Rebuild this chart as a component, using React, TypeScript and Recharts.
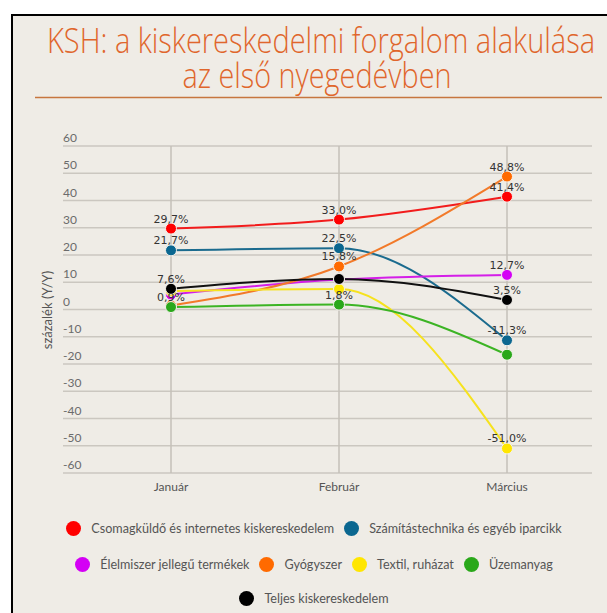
import React from 'react';
import { LineChart, Line, XAxis, YAxis, CartesianGrid, LabelList, ReferenceLine } from 'recharts';

const months = ['Január', 'Február', 'Március'];
const yTicks = [-60, -50, -40, -30, -20, -10, 0, 10, 20, 30, 40, 50, 60];

const csomagkuldo = [29.7, 33.0, 41.4];
const szamitastechnika = [21.7, 22.5, -11.3];
const elelmiszer = [5.5, 11.0, 12.7];
const gyogyszer = [1.5, 15.8, 48.8];
const textil = [6.8, 7.5, -51.0];
const uzemanyag = [0.9, 1.8, -16.6];
const teljes = [7.6, 11.2, 3.5];

// melyik pontnál van felirat
const csomagkuldoLabels = [true, true, true];
const szamitastechnikaLabels = [true, true, true];
const elelmiszerLabels = [false, false, true];
const gyogyszerLabels = [false, true, true];
const textilLabels = [false, false, true];
const uzemanyagLabels = [true, true, false];
const teljesLabels = [true, false, true];

const series = [
  { key: 'csomag', name: 'Csomagküldő és internetes kiskereskedelem', color: '#f21c1c', dot: '#ff0000', values: csomagkuldo, labels: csomagkuldoLabels },
  { key: 'szamitas', name: 'Számítástechnika és egyéb iparcikk', color: '#1b6b8e', dot: '#0b6790', values: szamitastechnika, labels: szamitastechnikaLabels },
  { key: 'elelmiszer', name: 'Élelmiszer jellegű termékek', color: '#d41ee8', dot: '#d400f5', values: elelmiszer, labels: elelmiszerLabels },
  { key: 'gyogyszer', name: 'Gyógyszer', color: '#f27a2a', dot: '#ff6a00', values: gyogyszer, labels: gyogyszerLabels },
  { key: 'textil', name: 'Textil, ruházat', color: '#f6e21e', dot: '#ffe600', values: textil, labels: textilLabels },
  { key: 'uzemanyag', name: 'Üzemanyag', color: '#3cb424', dot: '#2aa81a', values: uzemanyag, labels: uzemanyagLabels },
  { key: 'teljes', name: 'Teljes kiskereskedelem', color: '#111111', dot: '#000000', values: teljes, labels: teljesLabels },
];

const legendRows = [
  ['csomag', 'szamitas'],
  ['elelmiszer', 'gyogyszer', 'textil', 'uzemanyag'],
  ['teljes'],
];

const chartData = months.map((month, i) => {
  const row: Record<string, string | number> = { month };
  series.forEach((s) => {
    row[s.key] = s.values[i];
  });
  return row;
});

const formatPct = (v: number) => v.toFixed(1).replace('.', ',') + '%';

const UI_FONT = 'Lato, "Open Sans", sans-serif';

function YTick(props: any) {
  const { y, payload } = props;
  return (
    <text x={63} y={y - 4} fontSize={12} fill='#6b6b6b' fontFamily={UI_FONT}>
      {payload.value}
    </text>
  );
}

function XTick(props: any) {
  const { x, y, payload } = props;
  return (
    <text x={x} y={y + 10} textAnchor='middle' fontSize={12} fill='#555' fontFamily={UI_FONT}>
      {payload.value}
    </text>
  );
}

export default function App() {
  return (
    <div style={{ position: 'fixed', left: 0, top: 0, width: 607, height: 613, background: '#fff', overflow: 'hidden' }}>
      <div
        style={{
          position: 'absolute',
          left: 11,
          top: 14,
          width: 620,
          height: 620,
          borderTop: '2px solid #000',
          borderLeft: '2px solid #000',
          background: '#efece6',
        }}
      />

      {/* cím */}
      <svg width={607} height={110} style={{ position: 'absolute', left: 0, top: 0 }}>
        <text
          x={321}
          y={53}
          textAnchor='middle'
          fontSize={35}
          fontWeight={300}
          fill='#e0662c'
          fontFamily='"Open Sans", Roboto, sans-serif'
          textLength={548}
          lengthAdjust='spacingAndGlyphs'
        >
          KSH: a kiskereskedelmi forgalom alakulása
        </text>
        <text
          x={317}
          y={88}
          textAnchor='middle'
          fontSize={35}
          fontWeight={300}
          fill='#e0662c'
          fontFamily='"Open Sans", Roboto, sans-serif'
          textLength={269}
          lengthAdjust='spacingAndGlyphs'
        >
          az első nyegedévben
        </text>
        <line x1={35} x2={602} y1={97.5} y2={97.5} stroke='#c7763f' strokeWidth={1.5} />
      </svg>

      <div style={{ position: 'absolute', left: 0, top: 0 }}>
        <LineChart width={607} height={613} data={chartData} margin={{ top: 146, right: 15, bottom: 110, left: 13 }}>
          <CartesianGrid stroke='#cbc7c0' strokeWidth={1.5} vertical={false} />
          <XAxis
            dataKey='month'
            scale='point'
            padding={{ left: 108, right: 85 }}
            axisLine={false}
            tickLine={false}
            height={30}
            tick={<XTick />}
            interval={0}
          />
          <YAxis
            type='number'
            domain={[-60, 60]}
            ticks={yTicks}
            width={50}
            axisLine={false}
            tickLine={false}
            tick={<YTick />}
            interval={0}
          />
          {months.map((m) => (
            <ReferenceLine key={m} x={m} stroke='#c4c0b9' strokeWidth={1.5} />
          ))}
          {series.map((s) => (
            <Line
              key={s.key}
              dataKey={s.key}
              name={s.name}
              type='monotone'
              stroke={s.color}
              strokeWidth={2}
              dot={{ r: 5.5, fill: s.dot, stroke: '#f4f1ec', strokeWidth: 1 }}
              activeDot={false}
              isAnimationActive={false}
            >
              <LabelList
                dataKey={s.key}
                content={(p: any) =>
                  s.labels[p.index] ? (
                    <text x={p.x} y={p.y - 6} textAnchor='middle' fontSize={11} fill='#333' fontFamily='"DejaVu Sans", sans-serif'>
                      {formatPct(Number(p.value))}
                    </text>
                  ) : null
                }
              />
            </Line>
          ))}
        </LineChart>
      </div>

      {/* tengelyfelirat */}
      <svg width={80} height={613} style={{ position: 'absolute', left: 0, top: 0 }}>
        <text
          x={47}
          y={310}
          transform='rotate(-90 47 310)'
          textAnchor='middle'
          dominantBaseline='central'
          fontSize={13}
          fill='#555'
          fontFamily={UI_FONT}
        >
          százalék (Y/Y)
        </text>
      </svg>

      {/* jelmagyarázat */}
      {legendRows.map((row, ri) => (
        <div
          key={ri}
          style={{
            position: 'absolute',
            left: 0,
            width: 628,
            top: [518, 554, 588][ri],
            height: 20,
            display: 'flex',
            justifyContent: 'center',
            alignItems: 'center',
            gap: 10,
            fontFamily: UI_FONT,
            fontSize: 12.6,
            color: '#555',
          }}
        >
          {row.map((k) => {
            const s = series.find((x) => x.key === k)!;
            return (
              <div key={k} style={{ display: 'flex', alignItems: 'center', gap: 10 }}>
                <span style={{ width: 15, height: 15, borderRadius: '50%', background: s.dot, display: 'inline-block' }} />
                <span>{s.name}</span>
              </div>
            );
          })}
        </div>
      ))}
    </div>
  );
}
